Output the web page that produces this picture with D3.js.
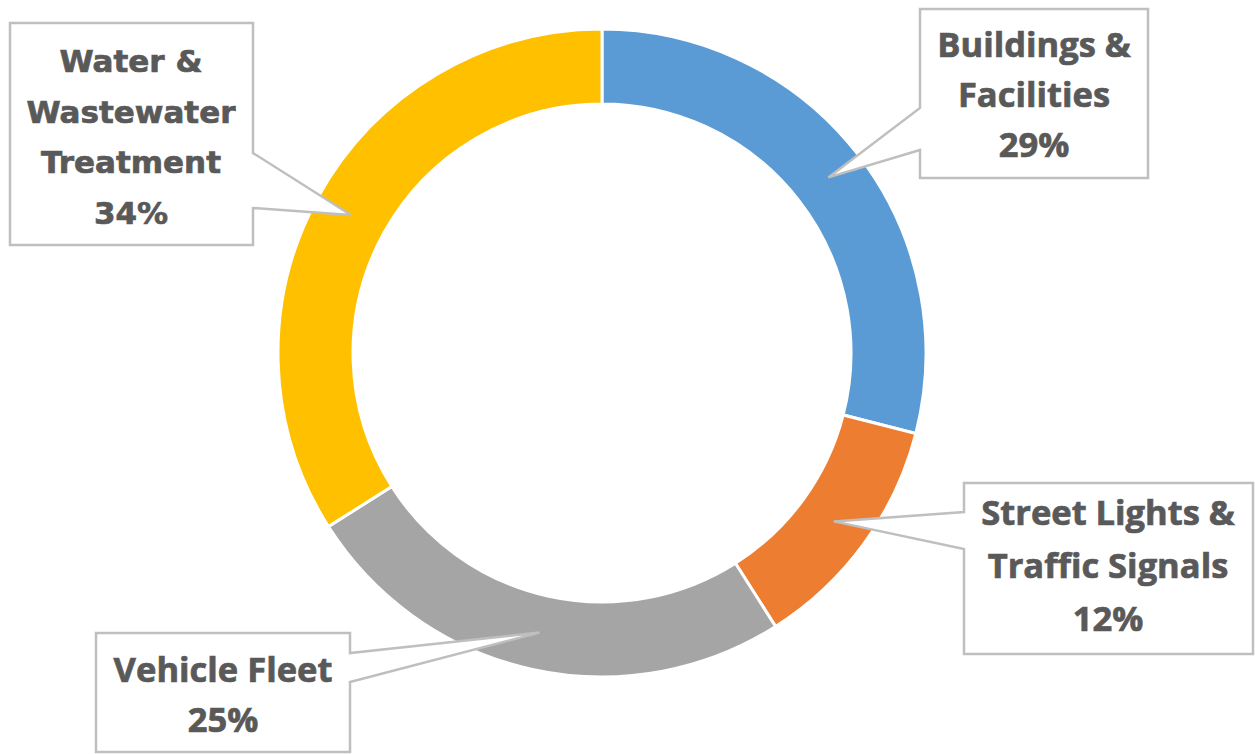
<!DOCTYPE html>
<html>
<head>
<meta charset="utf-8">
<script src="https://cdn.jsdelivr.net/npm/d3@7"></script>
<style>
  html, body { margin: 0; padding: 0; background: #ffffff; }
</style>
</head>
<body>
<div id="chart"></div>
<script>
// Energy use by sector, drawn as a D3 donut with callout labels

const categories = [
  'Buildings & Facilities',
  'Street Lights & Traffic Signals',
  'Vehicle Fleet',
  'Water & Wastewater Treatment'
];
const values = [29, 12, 25, 34];
const labelLines = [
  ['Buildings &', 'Facilities'],
  ['Street Lights &', 'Traffic Signals'],
  ['Vehicle Fleet'],
  ['Water &', 'Wastewater', 'Treatment']
];
const colors = ['#5B9BD5', '#ED7D31', '#A5A5A5', '#FFC000'];

(function() {
  const width = 1255;
  const height = 754;

  const cx = 602;
  const cy = 353;
  const outerR = 324;
  const innerR = 249;

  const textColor = '#595959';
  const boxColor = '#BFBFBF';

  // Callout boxes (layout only): box edges, side of the pointer and where it leaves the box
  const callouts = [
    { x0: 920, y0: 9, x1: 1148, y1: 178, side: 'left', a0: 108, a1: 150,
      tx: 1034, ty: 57, lh: 50, font: 'Open Sans', size: 34.5 },
    { x0: 964, y0: 483, x1: 1253, y1: 654, side: 'left', a0: 512, a1: 549,
      tx: 1108, ty: 525, lh: 53, font: 'Open Sans', size: 34.5 },
    { x0: 96, y0: 633, x1: 350, y1: 752, side: 'right', a0: 653, a1: 682,
      tx: 223, ty: 682, lh: 50, font: 'Open Sans', size: 34.5 },
    { x0: 10, y0: 23, x1: 253, y1: 245, side: 'right', a0: 153, a1: 208,
      tx: 131, ty: 72, lh: 50.5, font: 'DejaVu Sans', size: 31 }
  ];

  const data = categories.map((c, i) => ({
    name: c,
    value: values[i],
    color: colors[i],
    lines: labelLines[i].concat([values[i] + '%']),
    box: callouts[i]
  }));

  const svg = d3.select('#chart')
    .append('svg')
    .attr('width', width)
    .attr('height', height)
    .style('display', 'block')
    .style('background', '#ffffff');

  const pie = d3.pie()
    .value(d => d.value)
    .sort(null);

  const arc = d3.arc()
    .innerRadius(innerR)
    .outerRadius(outerR);

  const arcs = pie(data);

  const g = svg.append('g')
    .attr('transform', `translate(${cx}, ${cy})`);

  // Donut slices
  g.selectAll('.slice')
    .data(arcs)
    .enter()
    .append('path')
    .attr('class', 'slice')
    .attr('d', arc)
    .attr('fill', d => d.data.color)
    .attr('stroke', '#ffffff')
    .attr('stroke-width', 3);

  // Callout shapes: box plus a wedge pointing at the slice centroid
  function calloutPath(d) {
    const b = d.data.box;
    const c = arc.centroid(d);
    const tipX = cx + c[0];
    const tipY = cy + c[1];
    if (b.side === 'left') {
      return `M${b.x0},${b.y0} L${b.x1},${b.y0} L${b.x1},${b.y1} L${b.x0},${b.y1}` +
        ` L${b.x0},${b.a1} L${tipX},${tipY} L${b.x0},${b.a0} Z`;
    }
    return `M${b.x0},${b.y0} L${b.x1},${b.y0} L${b.x1},${b.a0} L${tipX},${tipY}` +
      ` L${b.x1},${b.a1} L${b.x1},${b.y1} L${b.x0},${b.y1} Z`;
  }

  svg.selectAll('.callout')
    .data(arcs)
    .enter()
    .append('path')
    .attr('class', 'callout')
    .attr('d', calloutPath)
    .attr('fill', '#ffffff')
    .attr('stroke', boxColor)
    .attr('stroke-width', 2.5)
    .attr('stroke-linejoin', 'miter');

  // Label text (a thin stroke thickens the glyphs a little)
  const labels = svg.selectAll('.label')
    .data(arcs)
    .enter()
    .append('text')
    .attr('class', 'label')
    .attr('text-anchor', 'middle')
    .style('font-family', d => d.data.box.font + ', sans-serif')
    .style('font-size', d => d.data.box.size + 'px')
    .style('font-weight', '700')
    .style('fill', textColor)
    .style('stroke', textColor)
    .style('stroke-width', 0.7);

  labels.selectAll('tspan')
    .data(d => d.data.lines.map((t, i) => ({ t, i, b: d.data.box })))
    .enter()
    .append('tspan')
    .attr('x', d => d.b.tx)
    .attr('y', d => d.b.ty + d.i * d.b.lh)
    .text(d => d.t);
})();
</script>
</body>
</html>
